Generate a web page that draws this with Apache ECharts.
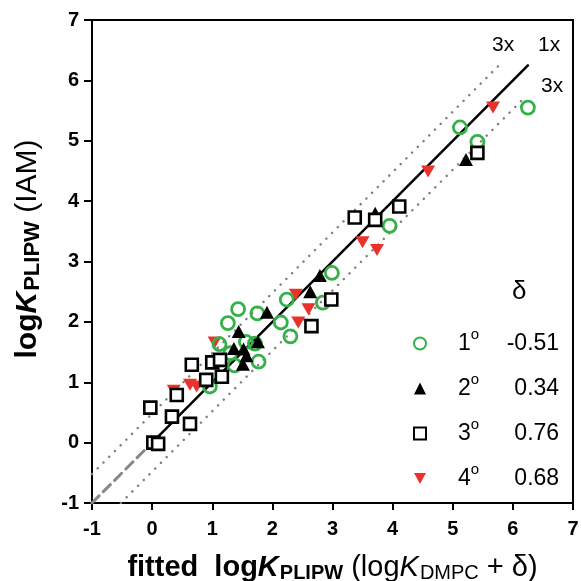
<!DOCTYPE html>
<html>
<head>
<meta charset="utf-8">
<script src="https://cdn.jsdelivr.net/npm/echarts@6/dist/echarts.min.js"></script>
<style>html,body{margin:0;padding:0;background:#fff}#c{width:581px;height:581px}</style>
</head>
<body>
<div id="c"></div>
<script>
// ---- data ----
const primary = [[6.25,5.55],[5.12,5.22],[5.41,4.98],[3.95,3.59],[2.99,2.81],[2.84,2.32],[2.24,2.37],[2.14,1.99],[2.30,1.76],[1.43,2.21],[1.75,2.14],[1.26,1.98],[1.56,1.67],[1.71,1.64],[1.12,1.63],[1.30,1.48],[1.77,1.34],[1.37,1.28],[0.96,0.93]];
const secondary = [[5.22,4.69],[3.71,3.80],[2.79,2.77],[2.63,2.50],[1.91,2.16],[1.44,1.84],[1.76,1.67],[1.36,1.56],[1.52,1.55],[1.57,1.44],[1.51,1.30]];
const tertiary = [[5.41,4.80],[4.11,3.91],[3.37,3.73],[3.71,3.69],[2.98,2.37],[2.65,1.93],[0.66,1.29],[1.00,1.33],[1.13,1.37],[0.90,1.04],[1.16,1.09],[0.41,0.79],[-0.03,0.58],[0.33,0.43],[0.63,0.31],[0.02,0.00],[0.10,-0.02]];
const quaternary = [[5.67,5.55],[4.59,4.49],[3.50,3.32],[3.74,3.19],[2.39,2.45],[2.60,2.21],[2.43,1.99],[1.04,1.66],[0.63,0.96],[0.74,0.93],[0.36,0.86]];
const classNames = ['1°','2°','3°','4°'];
const classNums = ['1','2','3','4'];
const deltas = ['-0.51','0.34','0.76','0.68'];
const identityDashed = [[-1,-1],[0,0]];
const identitySolid = [[0,0],[6.25,6.25]];
const upper3x = [[-1,-0.52],[5.75,6.23]];
const lower3x = [[-0.52,-1],[6.2,5.72]];
const lineLabels = ['3x','1x','3x'];

const FONT = '"Liberation Sans", Arial, Helvetica, sans-serif';
const GREEN = '#35b14a', RED = '#e8322b';
const downTri = 'path://M0,0 L10,0 L5,9 Z';

const chart = echarts.init(document.getElementById('c'), null, {renderer:'canvas'});

function lineSeries(data, color, width, type) {
  return {type:'line', data, symbol:'none', silent:true, z:1,
    lineStyle:{color, width, type, cap:'round', opacity:1}};
}

const option = {
  animation:false,
  grid:{left:92, right:8, top:20, bottom:78, show:true, borderColor:'#000', borderWidth:2,
    containLabel:false, outerBoundsMode:'none'},
  xAxis:{type:'value', min:-1, max:7, interval:1,
    axisLine:{show:true, onZero:false, lineStyle:{color:'#000', width:2}},
    axisTick:{show:true, length:7, lineStyle:{color:'#000', width:2}},
    axisLabel:{color:'#000', fontFamily:FONT, fontWeight:'bold', fontSize:20, margin:16, showMinLabel:true, showMaxLabel:true},
    splitLine:{show:false},
    nameLocation:'middle', nameGap:49,
    name:'{b|fitted  log}{bi|K}{bs|PLIPW}{n| (log}{i|K}{s|DMPC}{n| + δ)}',
    nameTextStyle:{fontFamily:FONT, color:'#000', rich:{
      b:{fontFamily:FONT, fontWeight:'bold', fontSize:29, color:'#000'},
      bi:{fontFamily:FONT, fontWeight:'bold', fontStyle:'italic', fontSize:29, color:'#000'},
      bs:{fontFamily:FONT, fontWeight:'bold', fontSize:20, color:'#000', padding:[11,0,0,1]},
      n:{fontFamily:FONT, fontSize:29, color:'#000'},
      i:{fontFamily:FONT, fontStyle:'italic', fontSize:29, color:'#000'},
      s:{fontFamily:FONT, fontSize:20, color:'#000', padding:[11,0,0,1]}
    }}
  },
  yAxis:{type:'value', min:-1, max:7, interval:1,
    axisLine:{show:true, onZero:false, lineStyle:{color:'#000', width:2}},
    axisTick:{show:true, length:8, lineStyle:{color:'#000', width:2}},
    axisLabel:{color:'#000', fontFamily:FONT, fontWeight:'bold', fontSize:20, margin:13, showMinLabel:true, showMaxLabel:true},
    splitLine:{show:false},
    nameLocation:'middle', nameGap:48,
    name:'{b|log}{bi|K}{bs|PLIPW}{n| (IAM)}',
    nameTextStyle:{fontFamily:FONT, color:'#000', padding:[0,0,0,25], rich:{
      b:{fontFamily:FONT, fontWeight:'bold', fontSize:30, color:'#000'},
      bi:{fontFamily:FONT, fontWeight:'bold', fontStyle:'italic', fontSize:30, color:'#000'},
      bs:{fontFamily:FONT, fontWeight:'bold', fontSize:22, color:'#000', padding:[11,0,0,1]},
      n:{fontFamily:FONT, fontSize:30, color:'#000'}
    }}
  },
  legend:{
    data:classNames, orient:'vertical', left:408, top:322, itemGap:17,
    itemWidth:12, itemHeight:12, selectedMode:false,
    formatter:function(name){ const k = classNames.indexOf(name); return '{n|'+classNums[k]+'}{s|o}{v|'+deltas[k]+'}'; },
    textStyle:{fontFamily:FONT, color:'#000', rich:{
      n:{fontFamily:FONT, fontSize:23, color:'#000', padding:[0,0,0,27]},
      s:{fontFamily:FONT, fontSize:15, color:'#000', padding:[0,0,18,0]},
      v:{fontFamily:FONT, fontSize:23, color:'#000', width:80, align:'right'}
    }}
  },
  graphic:[
    {type:'text', left:492, top:35, style:{text:lineLabels[0], font:'21px '+FONT, fill:'#000'}},
    {type:'text', left:538, top:35, style:{text:lineLabels[1], font:'21px '+FONT, fill:'#000'}},
    {type:'text', left:541, top:76, style:{text:lineLabels[2], font:'21px '+FONT, fill:'#000'}},
    {type:'text', left:512, top:279, style:{text:'δ', font:'26px '+FONT, fill:'#000'}}
  ],
  series:[
    lineSeries(upper3x, '#808080', 2.5, [0.1,8]),
    lineSeries(lower3x, '#808080', 2.5, [0.1,8]),
    lineSeries(identityDashed, '#888', 3, [10,6]),
    lineSeries(identitySolid, '#000', 2.5, 'solid'),
    {name:classNames[3], type:'scatter', data:quaternary, symbol:downTri, symbolSize:[14,12], z:3,
      itemStyle:{color:RED, opacity:1}},
    {name:classNames[0], type:'scatter', data:primary, symbol:'circle', symbolSize:13, z:4,
      itemStyle:{color:'rgba(255,255,255,0)', borderColor:GREEN, borderWidth:2.8, opacity:1}},
    {name:classNames[1], type:'scatter', data:secondary, symbol:'triangle', symbolSize:[14,13], z:5,
      itemStyle:{color:'#000', opacity:1}},
    {name:classNames[2], type:'scatter', data:tertiary, symbol:'rect', symbolSize:12, z:6,
      itemStyle:{color:'#fff', borderColor:'#000', borderWidth:2.6, opacity:1}}
  ]
};
chart.setOption(option);
</script>
</body>
</html>
